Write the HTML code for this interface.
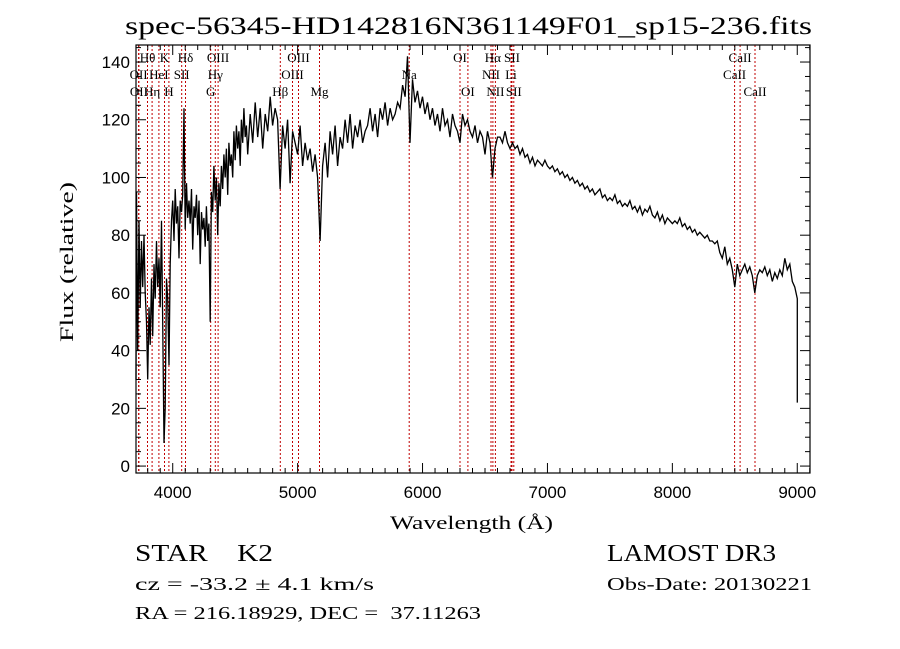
<!DOCTYPE html>
<html><head><meta charset="utf-8"><style>
html,body{margin:0;padding:0;background:#fff;}
svg{display:block;}
text{font-family:"Liberation Sans",sans-serif;fill:#000;}
.mono{font-family:"Liberation Serif",serif;}
</style></head><body>
<svg id="chart" width="900" height="649" viewBox="0 0 900 649" xmlns="http://www.w3.org/2000/svg">
<text x="125" y="34" font-size="25" textLength="687" lengthAdjust="spacingAndGlyphs" class="mono">spec-56345-HD142816N361149F01_sp15-236.fits</text>
<g id="lines"></g>
<g id="labels"></g>
<path id="spec" fill="none" stroke="#000" stroke-width="1.3" stroke-linejoin="miter"/>
<rect x="136" y="45" width="674" height="428" fill="none" stroke="#000" stroke-width="1.2"/>
<g id="ticks"></g>
<g id="xlab"></g>
<g id="ylab"></g>
<text x="390" y="529" font-size="19" textLength="163" lengthAdjust="spacingAndGlyphs" class="mono">Wavelength (Å)</text>
<text transform="translate(73,342) rotate(-90)" font-size="19" textLength="160" lengthAdjust="spacingAndGlyphs" class="mono">Flux (relative)</text>
<text x="135" y="561" font-size="24" textLength="138" lengthAdjust="spacingAndGlyphs" class="mono" xml:space="preserve">STAR    K2</text>
<text x="135" y="590" font-size="18" textLength="239" lengthAdjust="spacingAndGlyphs" class="mono">cz = -33.2 ± 4.1 km/s</text>
<text x="135" y="619" font-size="18" textLength="346" lengthAdjust="spacingAndGlyphs" class="mono" xml:space="preserve">RA = 216.18929, DEC =  37.11263</text>
<text x="607" y="561" font-size="24" textLength="169" lengthAdjust="spacingAndGlyphs" class="mono">LAMOST DR3</text>
<text x="607" y="590" font-size="18" textLength="205" lengthAdjust="spacingAndGlyphs" class="mono">Obs-Date: 20130221</text>
</svg>
<script>
const fluxBlue = [ // 3700..4600 step 10
30,95,40,85,55,78,62,80,60,50,
30,55,42,65,45,70,58,78,62,72,
55,85,50,8,20,65,58,35,70,85,
92,78,96,84,90,72,92,88,94,124,
82,98,86,92,84,96,75,90,86,94,
80,92,70,88,82,86,76,90,78,84,
50,95,88,104,92,100,80,98,90,104,
96,108,100,110,94,112,104,108,100,116,
106,118,110,116,104,120,112,124,114,118,
108];
const fluxRed = [ // 4620..9000 step 20
122,112,126,114,124,110,122,116,128,118,
124,120,96,118,110,120,98,116,112,108,
118,104,112,106,110,102,108,100,78,104,
112,100,116,108,118,104,114,110,120,112,
122,110,118,114,120,112,116,118,124,116,
122,114,124,120,126,118,124,120,122,126,
124,132,128,142,112,134,126,130,124,128,
122,126,120,124,118,122,116,124,118,120,
114,122,118,116,112,122,118,120,116,114,
118,112,116,114,108,116,112,100,110,114,
114,112,116,112,110,112,110,111,108,110,
107,108,105,107,104,106,105,104,106,104,
103,104,102,103,101,102,100,101,99,100,
98,99,97,98,96,97,95,96,94,95,
96,93,94,92,93,92,94,91,92,90,
91,90,92,89,90,88,90,87,89,88,
90,87,86,88,85,87,84,86,85,84,
85,84,86,83,84,82,83,81,82,80,
81,80,79,80,78,78,77,78,74,72,
76,70,72,68,62,70,66,68,70,67,
69,66,60,66,68,67,69,66,68,64,
67,65,68,66,72,68,70,64,62,58];
const tailWave = [9000];
const tailFlux = [22];
const lineWaves = [3727,3729,3798,3835,3889,3934,3969,4072,4102,4304,4341,4363,4861,4959,5007,5175,5893,6300,6363,6548,6563,6583,6708,6716,6731,8498,8542,8662];
const lineNames = ["OII","OII","Hθ","Hη","HeI","K","H","SII","Hδ","G","Hγ","OIII","Hβ","OIII","OIII","Mg","Na","OI","OI","NII","Hα","NII","Li","SII","SII","CaII","CaII","CaII"];
const lineRows = [1,2,0,2,1,0,2,1,0,2,1,0,2,1,0,2,1,0,2,1,0,2,1,0,2,1,0,2];
const xTicks = [4000,5000,6000,7000,8000,9000];
const yTicks = [0,20,40,60,80,100,120,140];

const NS = "http://www.w3.org/2000/svg";
const X0=136,X1=810,Y0=45,Y1=473;
const WMIN=3706,WMAX=9102,FMIN=-2.4,FMAX=145.9;
const xs = w => X0 + (w-WMIN)/(WMAX-WMIN)*(X1-X0);
const ys = f => Y1 - (f-FMIN)/(FMAX-FMIN)*(Y1-Y0);
function mk(tag, parent){const e=document.createElementNS(NS,tag);document.getElementById(parent).appendChild(e);return e;}

// spectrum
let pts=[];
fluxBlue.forEach((f,i)=>pts.push([3700+i*10,f]));
fluxRed.forEach((f,i)=>pts.push([4620+i*20,f]));
tailWave.forEach((w,i)=>pts.push([w,tailFlux[i]]));
let d="";
pts.forEach((p,i)=>{const x=Math.max(X0,xs(p[0]));d+=(i?"L":"M")+x.toFixed(1)+" "+ys(p[1]).toFixed(1);});
document.getElementById("spec").setAttribute("d",d);

// line markers & labels
const rowY=[62,79,96];
lineWaves.forEach((w,i)=>{
  const l=mk("line","lines");
  
  
  const x=xs(w).toFixed(1);
  l.setAttribute("x1",x);l.setAttribute("x2",x);l.setAttribute("y1",Y0);l.setAttribute("y2",Y1);
  l.setAttribute("stroke","#c00000");l.setAttribute("stroke-width","1");l.setAttribute("stroke-dasharray","2,2");
  const t=mk("text","labels");
  
  
  t.setAttribute("x",x);t.setAttribute("y",rowY[lineRows[i]]);
  t.setAttribute("text-anchor","middle");t.setAttribute("font-size","13");t.setAttribute("class","mono");
  t.textContent=lineNames[i];
});

// ticks
function tick(x1,y1,x2,y2){const l=mk("line","ticks");
  
  
  l.setAttribute("x1",x1);l.setAttribute("y1",y1);l.setAttribute("x2",x2);l.setAttribute("y2",y2);l.setAttribute("stroke","#000");l.setAttribute("stroke-width","1");}
for(let w=3800;w<=9100;w+=100){const x=xs(w);const len=(w%1000===0)?10:5;tick(x,Y1,x,Y1-len);tick(x,Y0,x,Y0+len);}
for(let f=0;f<=145;f+=5){const y=ys(f);const len=(f%20===0)?10:5;tick(X0,y,X0+len,y);tick(X1,y,X1-len,y);}
xTicks.forEach(w=>{const t=mk("text","xlab");
  
  
  t.setAttribute("x",xs(w));t.setAttribute("y",Y1+25);t.setAttribute("text-anchor","middle");t.setAttribute("font-size","17");t.textContent=w;});
yTicks.forEach(f=>{const t=mk("text","ylab");
  
  
  t.setAttribute("x",X0-6);t.setAttribute("y",ys(f)+6);t.setAttribute("text-anchor","end");t.setAttribute("font-size","17");t.textContent=f;});
</script>
</body></html>
